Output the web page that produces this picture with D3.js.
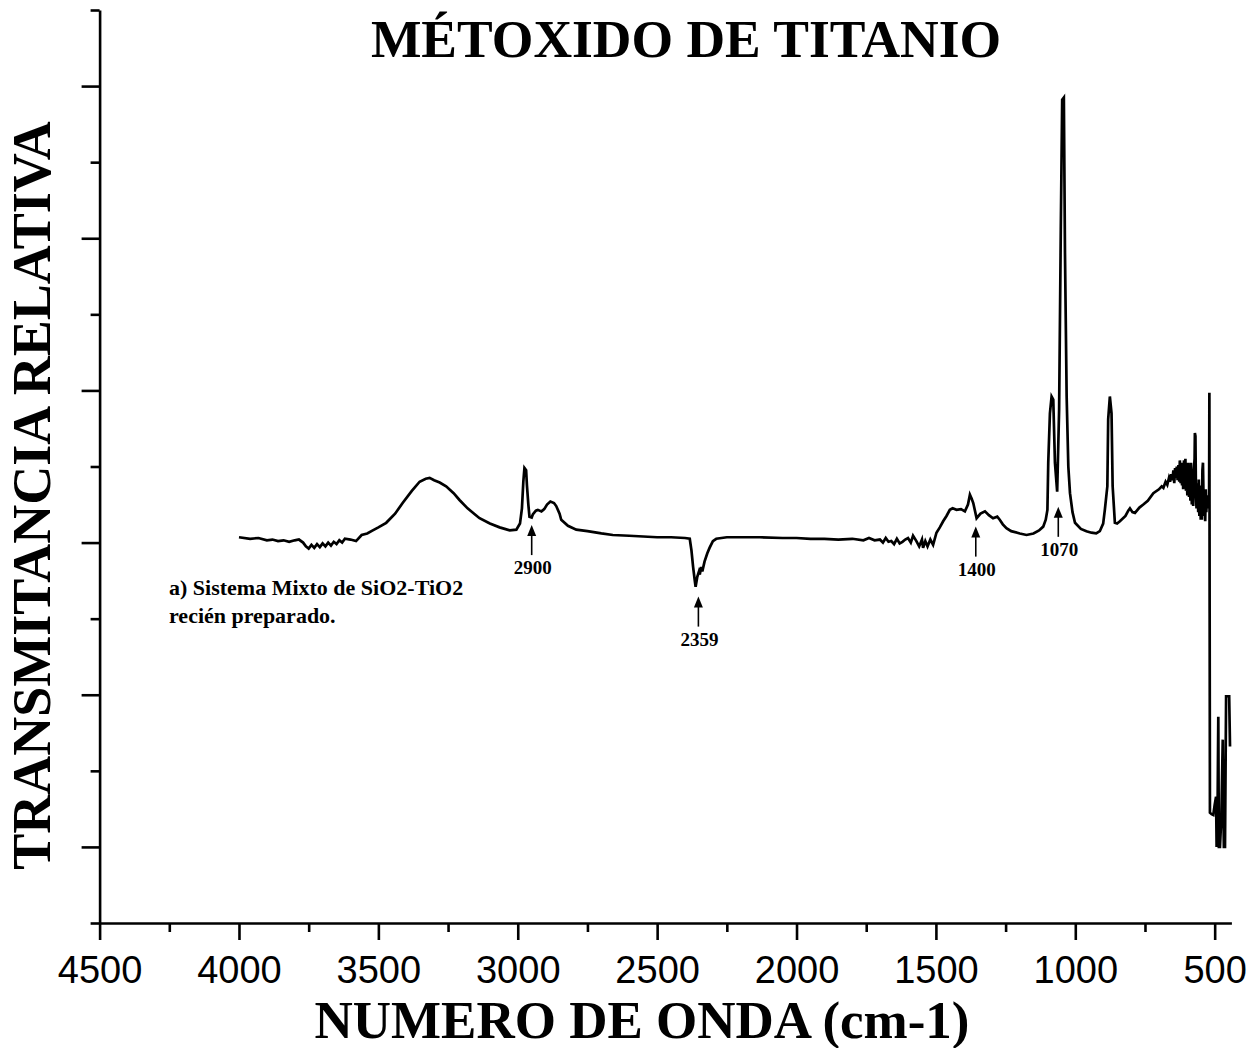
<!DOCTYPE html>
<html><head><meta charset="utf-8">
<script src="https://cdn.jsdelivr.net/npm/d3@7"></script>
<style>
html,body{margin:0;padding:0;background:#fff;}
svg{display:block;}
</style></head>
<body>
<svg id="chart" width="1258" height="1048"></svg>
<script>
// ---- data (wavenumber cm-1, relative transmittance units) ----
const wavenumbers = [4000,3960,3930,3900,3880,3860,3840,3820,3800,3785,3770,3760,3750,3740,3730,3720,3710,3700,3690,3680,3670,3660,3650,3640,3630,3620,3600,3580,3560,3540,3520,3500,3472,3440,3413,3380,3352,3330,3316,3300,3280,3257,3230,3209,3180,3150,3137,3100,3065,3029,3005,2992,2985,2980,2976,2970,2967,2962,2958,2950,2946,2935,2928,2915,2905,2895,2883,2870,2862,2850,2844,2820,2790,2750,2700,2659,2600,2550,2500,2450,2400,2383,2377,2371,2365,2362,2356,2350,2347,2342,2338,2330,2320,2312,2300,2288,2250,2200,2132,2050,2000,1950,1900,1850,1800,1760,1740,1720,1701,1690,1680,1670,1660,1650,1640,1630,1620,1610,1600,1590,1582,1570,1560,1550,1546,1538,1530,1520,1510,1498,1486,1474,1462,1450,1440,1426,1410,1396,1385,1378,1372,1366,1354,1340,1324,1310,1295,1280,1271,1260,1247,1230,1199,1175,1150,1130,1115,1106,1100,1097,1091,1085,1079,1073,1065,1058,1052,1047,1041,1037,1031,1025,1019,1010,1001,980,960,942,925,912,900,894,885,882,876,870,866,858,850,840,820,810,804,795,786,770,756,740,720,700,690,684,676,670,664,660,656,652,648,645,642,638,636,633,630,627,625,622,620,617,615,613,610,608,605,603,601,598,595,592,590,587,585,582,580,577,575,572,571,569,567,565,562,559,557,555,553,550,548,546,544,542,540,538,536,534,532,530,528,525,522,520,519,518,517,511,505,500,495,493,490,487,485,481,476,471,469,467,463,459,448,445];
const transmittance = [5.07,5.05,5.06,5.03,5.04,5.02,5.03,5.01,5.03,5.04,5.00,4.95,4.92,4.97,4.93,4.98,4.94,4.99,4.95,5.00,4.96,5.01,4.98,5.03,5.00,5.05,5.04,5.02,5.10,5.12,5.16,5.20,5.26,5.38,5.52,5.68,5.80,5.84,5.85,5.82,5.79,5.74,5.65,5.56,5.45,5.36,5.32,5.25,5.20,5.16,5.17,5.25,5.45,5.80,5.98,5.95,5.75,5.50,5.34,5.33,5.37,5.42,5.43,5.41,5.44,5.50,5.54,5.52,5.48,5.38,5.30,5.22,5.17,5.15,5.12,5.10,5.09,5.08,5.07,5.07,5.06,5.05,4.90,4.68,4.50,4.42,4.55,4.62,4.58,4.68,4.62,4.75,4.86,4.93,5.02,5.05,5.07,5.07,5.07,5.06,5.06,5.05,5.05,5.04,5.05,5.03,5.06,5.03,5.04,5.00,5.06,5.01,5.02,4.98,5.05,4.99,5.01,5.04,5.06,5.00,5.09,5.02,4.95,5.04,4.93,5.02,4.95,5.04,4.97,5.13,5.20,5.28,5.35,5.43,5.45,5.43,5.44,5.41,5.50,5.63,5.58,5.52,5.32,5.38,5.41,5.36,5.32,5.34,5.30,5.24,5.19,5.15,5.12,5.10,5.12,5.16,5.21,5.30,5.43,6.05,6.70,6.92,6.88,6.05,5.67,6.75,9.11,10.82,10.85,8.81,6.92,6.00,5.65,5.40,5.26,5.18,5.15,5.13,5.12,5.15,5.25,5.43,5.74,6.62,6.92,6.70,5.74,5.26,5.25,5.28,5.35,5.42,5.45,5.40,5.39,5.46,5.50,5.55,5.65,5.70,5.74,5.72,5.80,5.76,5.85,5.80,5.90,5.82,5.95,5.78,5.98,5.85,6.00,5.82,6.02,5.80,6.08,5.78,6.00,5.75,6.05,5.70,6.08,5.72,6.10,5.68,5.95,5.62,6.05,5.60,5.92,5.55,6.05,5.50,5.85,5.48,5.95,6.10,6.44,6.40,5.60,5.45,5.78,5.40,5.83,5.35,5.70,5.30,5.75,5.30,5.95,6.05,5.60,5.35,5.65,5.28,5.70,5.40,5.62,5.45,5.60,5.55,6.97,4.07,1.45,1.43,1.42,1.55,1.66,1.00,1.30,2.71,1.00,1.00,1.40,2.41,1.50,1.00,1.00,2.98,2.98,2.32];

const xMajorTicks = [4500,4000,3500,3000,2500,2000,1500,1000,500];
const xMinorTicks = [4250,3750,3250,2750,2250,1750,1250,750];
const yMajorTicks = [1,3,5,7,9,11];
const yMinorTicks = [0,2,4,6,8,10,12];

const peakLabels = ["2900","2359","1400","1070"];
const peakArrowX = [2950,2352,1357,1061];
const peakArrowTip = [5.23,4.29,5.21,5.47];

const title = "MÉTOXIDO DE TITANIO";
const xTitle = "NUMERO DE ONDA (cm-1)";
const yTitle = "TRANSMITANCIA RELATIVA";
const noteLines = ["a) Sistema Mixto de SiO2-TiO2","recién preparado."];

// ---- drawing ----
const svg = d3.select("#chart");
const x = d3.scaleLinear().domain([4500,440]).range([99.6,1231.4]);
const y = d3.scaleLinear().domain([0,12]).range([923,10]);

const axisColor = "#000";
// X axis
const gx = svg.append("g").attr("transform","translate(0,923)");
gx.call(d3.axisBottom(x).tickValues(xMajorTicks).tickSize(17).tickPadding(16).tickSizeOuter(0).tickFormat(d3.format("d")));
gx.append("g").call(d3.axisBottom(x).tickValues(xMinorTicks).tickSize(9).tickSizeOuter(0).tickFormat(""))
  .select(".domain").remove();
gx.selectAll("path,line").attr("stroke",axisColor).attr("stroke-width",2.6);
gx.selectAll("text").attr("font-family","'Liberation Sans', Arial, sans-serif").attr("font-size",38).attr("fill","#000");

// Y axis
const gy = svg.append("g").attr("transform","translate(99.6,0)");
gy.call(d3.axisLeft(y).tickValues(yMajorTicks).tickSize(18).tickSizeOuter(0).tickFormat(""));
gy.append("g").call(d3.axisLeft(y).tickValues(yMinorTicks).tickSize(9).tickSizeOuter(0).tickFormat(""))
  .select(".domain").remove();
gy.selectAll("path,line").attr("stroke",axisColor).attr("stroke-width",2.6);

// spectrum
const pts = wavenumbers.map((w,i)=>[w,transmittance[i]]);
svg.append("path").datum(pts)
  .attr("fill","none").attr("stroke","#000").attr("stroke-width",2.7).attr("stroke-linejoin","miter")
  .attr("d", d3.line().x(d=>x(d[0])).y(d=>y(d[1])));

// peak arrows
const serif = "'Liberation Serif','Times New Roman',serif";
peakLabels.forEach((lab,i)=>{
  const ax = x(peakArrowX[i]), tip = y(peakArrowTip[i]);
  svg.append("line").attr("x1",ax).attr("x2",ax).attr("y1",tip+8).attr("y2",tip+30)
    .attr("stroke","#000").attr("stroke-width",1.6);
  svg.append("path").attr("d",`M${ax},${tip} L${ax-4.5},${tip+11} L${ax+4.5},${tip+11} Z`).attr("fill","#000");
  svg.append("text").attr("x",ax+1).attr("y",tip+49).attr("text-anchor","middle")
    .attr("font-family",serif).attr("font-weight","bold").attr("font-size",19).text(lab);
});

// note
noteLines.forEach((t,i)=>{
  svg.append("text").attr("x",169).attr("y",595+i*28)
    .attr("font-family",serif).attr("font-weight","bold").attr("font-size",22).text(t);
});

// titles
svg.append("text").attr("x",686).attr("y",57).attr("text-anchor","middle")
  .attr("font-family",serif).attr("font-weight","bold").attr("font-size",53.5).text(title);
svg.append("text").attr("x",642).attr("y",1038).attr("text-anchor","middle")
  .attr("font-family",serif).attr("font-weight","bold").attr("font-size",53).text(xTitle);
svg.append("text").attr("transform","translate(49.5,495.5) rotate(-90)").attr("text-anchor","middle")
  .attr("font-family",serif).attr("font-weight","bold").attr("font-size",54).text(yTitle);
</script>
</body></html>
